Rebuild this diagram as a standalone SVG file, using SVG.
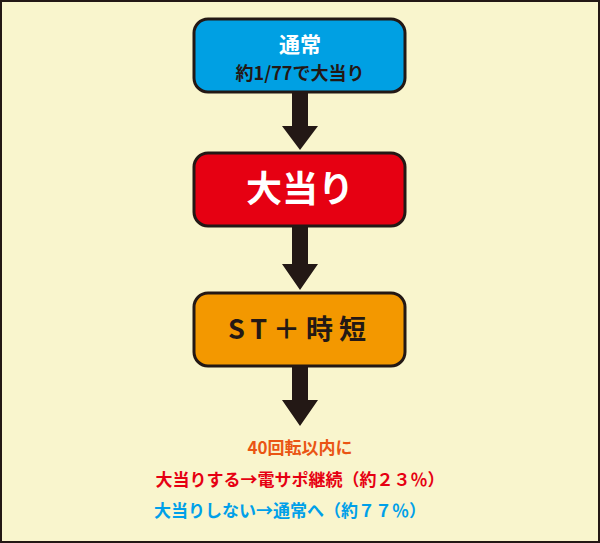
<svg xmlns="http://www.w3.org/2000/svg" width="600" height="543" viewBox="0 0 600 543">
<style>
.box{stroke:#231815;stroke-width:3}
.t{font-family:"Noto Sans CJK JP","Noto Sans",sans-serif;font-weight:bold;text-anchor:middle}
.arr{fill:#231815}
</style>
<rect x="1" y="1" width="598" height="541" fill="#f9f5cd" stroke="#231815" stroke-width="2"/>
<g id="connectors">
<path class="arr" d="M292 92H308V126H318L300 150L282 126H292Z"/>
<path class="arr" d="M292 226H308V264H318L300 290L282 264H292Z"/>
<path class="arr" d="M292 366H308V400H318L300 426L282 400H292Z"/>
</g>
<g id="n1">
<rect class="box" x="194" y="19" width="211" height="73" rx="14" fill="#00a0e3"/>
<text class="t" x="300" y="52" font-size="21" fill="#fff">通常</text>
<text class="t" x="300" y="80" font-size="18" fill="#231815">約1/77で大当り</text>
</g>
<g id="n2">
<rect class="box" x="194" y="153" width="211" height="73" rx="14" fill="#e60012"/>
<text class="t" x="300" y="202" font-size="36" fill="#fff">大当り</text>
</g>
<g id="n3">
<rect class="box" x="194" y="293" width="211" height="73" rx="14" fill="#f39800"/>
<text class="t" x="300" y="339" font-size="27" fill="#231815" letter-spacing="6">ST＋時短</text>
</g>
<g id="notes">
<text class="t" x="300" y="454" font-size="17" fill="#ea5514">40回転以内に</text>
<text class="t" x="300" y="486" font-size="17" fill="#e60012">大当りする→電サポ継続（約２３％）</text>
<text class="t" x="290" y="517" font-size="17" fill="#00a0e9">大当りしない→通常へ（約７７％）</text>
</g>
</svg>
